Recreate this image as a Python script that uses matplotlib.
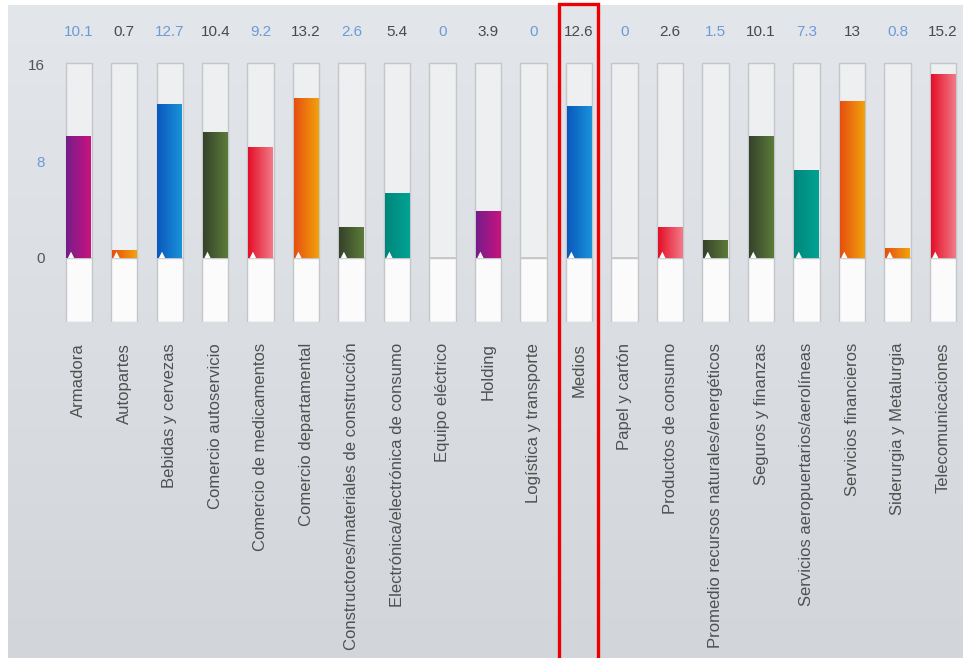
import numpy as np
import matplotlib.pyplot as plt
import matplotlib.transforms as mtransforms
from matplotlib.colors import LinearSegmentedColormap
from matplotlib.patches import Rectangle

plt.rcParams['font.family'] = ['Liberation Sans', 'DejaVu Sans']

categories = ['Armadora', 'Autopartes', 'Bebidas y cervezas', 'Comercio autoservicio',
              'Comercio de medicamentos', 'Comercio departamental',
              'Constructores/materiales de construcción',
              'Electrónica/electrónica de consumo', 'Equipo eléctrico', 'Holding',
              'Logística y transporte', 'Medios', 'Papel y cartón', 'Productos de consumo',
              'Promedio recursos naturales/energéticos', 'Seguros y finanzas',
              'Servicios aeropuertarios/aerolíneas', 'Servicios financieros',
              'Siderurgia y Metalurgia', 'Telecomunicaciones']
values = [10.1, 0.7, 12.7, 10.4, 9.2, 13.2, 2.6, 5.4, 0, 3.9,
          0, 12.6, 0, 2.6, 1.5, 10.1, 7.3, 13, 0.8, 15.2]
labels = ['10.1', '0.7', '12.7', '10.4', '9.2', '13.2', '2.6', '5.4', '0', '3.9',
          '0', '12.6', '0', '2.6', '1.5', '10.1', '7.3', '13', '0.8', '15.2']
bar_colors = ['purple', 'orange', 'blue', 'green', 'red', 'orange', 'green', 'teal', 'red', 'purple',
              'blue', 'blue', 'red', 'red', 'green', 'green', 'teal', 'orange', 'orange', 'red']
highlight = 'Medios'

# left / right shades for the tube gradients
shades = {
    'purple': ('#751d8a', '#c8137f'),
    'orange': ('#e64f10', '#f2a20c'),
    'blue': ('#0a58bc', '#1a92da'),
    'green': ('#36422b', '#5b7b39'),
    'red': ('#e40f28', '#f27a88'),
    'teal': ('#00867c', '#00a393'),
}

W, H = 963, 658
fig = plt.figure(figsize=(W / 100, H / 100), dpi=100, facecolor='white')

# panel background
bg = fig.add_axes([8 / W, 0, 1 - 8 / W, 1 - 5 / H], zorder=-1)
grad = np.linspace(0, 1, 256).reshape(-1, 1)
bg.imshow(grad, aspect='auto', extent=[0, 1, 0, 1], origin='upper',
          cmap=LinearSegmentedColormap.from_list('bg', ['#e3e6ea', '#d2d6db']))
bg.axis('off')

ax = fig.add_axes([56 / W, (H - 322) / H, (W - 56) / W, 260 / H])
x = np.arange(len(categories))
ax.set_xlim(-0.5, 19.44)
ax.set_ylim(-5.29, 16.2)
ax.patch.set_alpha(0)
for s in ax.spines.values():
    s.set_visible(False)

ymin, ymax = ax.get_ylim()
# tubes
ax.bar(x, ymax - 0.1, bottom=0, width=0.58, color='#eeeff0', edgecolor='#c4c6c9', linewidth=1, zorder=1)
ax.bar(x, -ymin, bottom=ymin, width=0.58, color='#fbfbfb', edgecolor='#c4c6c9', linewidth=1, zorder=1)

for i, (v, c) in enumerate(zip(values, bar_colors)):
    if v <= 0:
        ax.plot([i - 0.27, i + 0.27], [0, 0], color='#c4c6c9', lw=1.2, zorder=2)
        continue
    b = ax.bar(i, v, width=0.54, color='none', zorder=3)[0]
    cmap = LinearSegmentedColormap.from_list('g%d' % i, shades[c])
    im = ax.imshow(np.linspace(0, 1, 64).reshape(1, -1), cmap=cmap, aspect='auto',
                   extent=[i - 0.27, i + 0.27, 0, v], zorder=3)
    im.set_clip_path(b)
    ax.scatter(i - 0.17, 0.25, marker='^', s=22, color='white', edgecolor='none', zorder=4)

ax.set_xlim(-0.5, 19.44)
ax.set_ylim(ymin, ymax)

# value labels
for i, t in enumerate(labels):
    ax.text(i, 18.7, t, ha='center', va='center', fontsize=11,
            color='#6b9bd8' if i % 2 == 0 else '#4a4a4a', clip_on=False)

ax.set_yticks([0, 8, 16])
ax.set_yticklabels(['0', '8', '16'], fontsize=11)
for t, col in zip(ax.get_yticklabels(), ['#555555', '#6b9bd8', '#555555']):
    t.set_color(col)
ax.set_xticks(x)
ax.set_xticklabels(categories, rotation=90, fontsize=12, color='#505050', va='top')
ax.tick_params(length=0)
ax.tick_params(axis='y', pad=8)
ax.tick_params(axis='x', pad=15)

# highlight box around one category
k = categories.index(highlight)
trans = mtransforms.blended_transform_factory(ax.transData, fig.transFigure)
ax.add_patch(Rectangle((k - 0.44, -0.02), 0.86, 1 - 4 / H + 0.02, transform=trans,
                       fill=False, edgecolor='#ee0000', linewidth=2.4, clip_on=False, zorder=10))

fig.savefig('out.png', dpi=100)
